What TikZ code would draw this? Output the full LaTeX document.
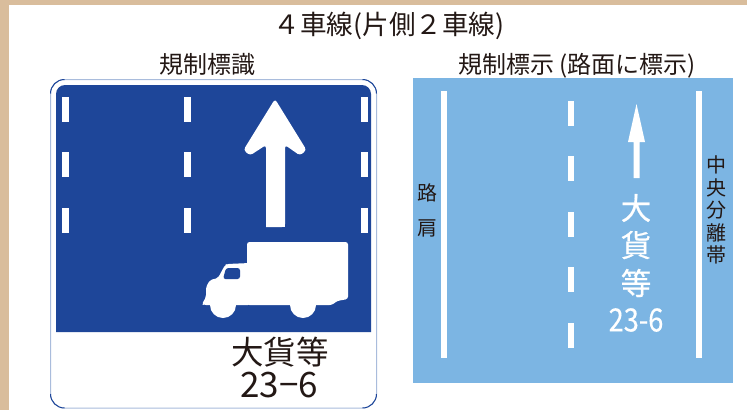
\documentclass[tikz,border=0pt]{standalone}
\usepackage{fontspec}
\setmainfont{Noto Sans CJK JP}
\newfontfamily\heavyfont[FakeBold=0.6]{Noto Sans CJK JP}
\newfontfamily\narrowfont[FakeStretch=0.85,FakeBold=0.3]{Noto Sans CJK JP}
\definecolor{tanframe}{HTML}{D9BD9C}
\definecolor{signblue}{HTML}{1E4699}
\definecolor{signedge}{HTML}{A9BCDC}
\definecolor{roadblue}{HTML}{7CB5E3}
\definecolor{inkdark}{HTML}{231815}
\begin{document}
\begin{tikzpicture}[x=1pt,y=-1pt,
    every node/.style={inner sep=0pt,text=inkdark},
    head/.style={font=\fontsize{26.6}{27}\selectfont},
    sub/.style={font=\fontsize{24}{24}\selectfont},
    side/.style={font=\fontsize{20}{20}\selectfont},
    signtext/.style={font=\fontsize{32.5}{33}\selectfont},
    roadtext/.style={font=\heavyfont\fontsize{30.5}{31}\selectfont,text=white},
    paint/.style={fill=white}]
    \useasboundingbox (0,0) rectangle (747,410);
    \fill [white] (0,0) rectangle (747,410);
    \fill [tanframe] (0,0) rectangle (747,5);
    \fill [tanframe] (0,0) rectangle (9,410);
    \node [head] (title) at (389,26) {４車線(片側２車線)};
    \node [sub] (signhead) at (207,64) {規制標識};
    \node [sub] (roadhead) at (577,66) {規制標示 (路面に標示)};
    \draw [signedge,line width=1pt,rounded corners=14] (50.5,79.5) rectangle (376.5,408);
    \draw [signblue,line width=1pt] (50.5,93.5) arc (180:270:14);
    \draw [signblue,line width=1pt] (362.5,79.5) arc (270:360:14);
    \draw [signblue,line width=1pt] (376.5,394) arc (0:90:14);
    \draw [signblue,line width=1pt] (64.5,408) arc (90:180:14);
    \fill [signblue] (56,332) [rounded corners=9] -- (56,85) -- (371,85) [sharp corners] -- (371,332) -- cycle;
    \fill [paint] (62,97) rectangle (69,122);
    \fill [paint] (62,152) rectangle (69,177);
    \fill [paint] (62,208) rectangle (69,233);
    \fill [paint] (184,97) rectangle (191,122);
    \fill [paint] (184,152) rectangle (191,177);
    \fill [paint] (184,208) rectangle (191,233);
    \fill [paint] (361,97) rectangle (368,122);
    \fill [paint] (361,152) rectangle (368,177);
    \fill [paint] (361,208) rectangle (368,233);
    \fill [paint,rounded corners=3] (266,227) -- (266,145) -- (250,155.5) -- (243.5,150) -- (275,99) -- (306.5,150) -- (300,155.5) -- (285,145) -- (285,227) [sharp corners] -- cycle;
    \fill [paint] (266,227) rectangle (285,150);
    \fill [paint,rounded corners=2.5] (247,301) -- (247,242) -- (348,242) -- (348,299) -- (337,301) -- (332,305) -- (247,305) -- cycle;
    \fill [paint,rounded corners=2] (250,305) -- (204,305) -- (202,304) -- (206,297) -- (206,287) -- (210,280) -- (218,278) -- (225,265) -- (227,264) -- (250,263) -- cycle;
    \fill [paint] (223,305) circle (13);
    \fill [paint] (303,305) circle (13);
    \fill [signblue,rounded corners=2.5] (223,279) -- (226,268) -- (240,268) -- (240,279) -- cycle;
    \node [signtext] (signname) at (280,352) {大貨等};
    \node [signtext,font=\fontsize{35}{35}\selectfont] (signcode) at (279,385) {23−6};
    \fill [roadblue] (413,78) rectangle (733,383);
    \fill [paint] (441,91) rectangle (447,358);
    \fill [paint] (696,91) rectangle (702,358);
    \fill [paint] (568,101) rectangle (574,126);
    \fill [paint] (568,156) rectangle (574,181);
    \fill [paint] (568,212) rectangle (574,237);
    \fill [paint] (568,267) rectangle (574,292);
    \fill [paint] (568,323) rectangle (574,348);
    \fill [paint] (633.5,178) -- (633.5,142) -- (628,142) -- (636.5,104) -- (645,142) -- (639.5,142) -- (639.5,178) -- cycle;
    \node [roadtext] (roadone) at (636,208) {大};
    \node [roadtext] (roadtwo) at (636,245) {貨};
    \node [roadtext] (roadthree) at (636,283) {等};
    \node [roadtext,font=\narrowfont\fontsize{32}{32}\selectfont] (roadcode) at (636,320) {23-6};
    \node [side] (shoulderone) at (427,193) {路};
    \node [side] (shouldertwo) at (427,228) {肩};
    \node [side] (medianone) at (716,165) {中};
    \node [side] (mediantwo) at (716,188) {央};
    \node [side] (medianthree) at (716,210) {分};
    \node [side] (medianfour) at (716,233) {離};
    \node [side] (medianfive) at (716,255) {帯};
\end{tikzpicture}
\end{document}
